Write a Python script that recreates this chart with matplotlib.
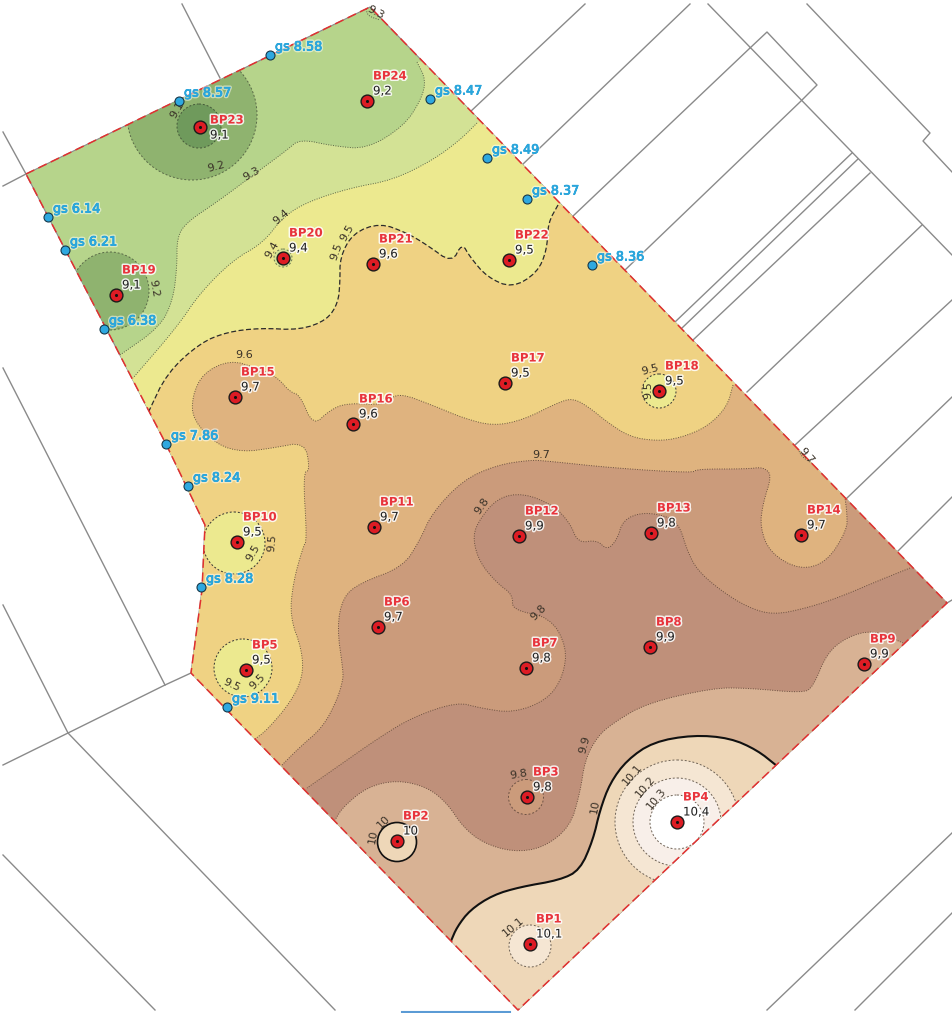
import matplotlib
matplotlib.use("Agg")
import matplotlib.pyplot as plt
import matplotlib.patheffects as pe
from matplotlib.patches import Polygon, Circle

# site outline (map pixels)
site = [(26, 174), (370, 7), (947, 603), (518, 1010), (191, 673), (202, 590), (205, 525), (166, 444)]

# neighbouring parcels
parcels = [
    [(470, 112), (585, 4)], [(522, 165), (690, 4)], [(572, 217), (750, 48)],
    [(625, 270), (800, 102), (817, 85), (767, 32), (750, 48)],
    [(708, 4), (952, 255)],
    [(807, 4), (930, 133), (923, 141), (952, 172)],
    [(675, 322), (852, 153)], [(682, 328), (858, 159)], [(693, 340), (870, 173)],
    [(747, 392), (922, 225)], [(795, 445), (952, 300)], [(847, 498), (952, 397)],
    [(897, 552), (952, 497)], [(947, 603), (952, 600)],
    [(182, 4), (220, 78)], [(3, 132), (26, 174), (3, 186)],
    [(3, 368), (165, 685)], [(3, 605), (68, 733), (335, 1010)],
    [(3, 765), (68, 733), (165, 685), (191, 673)], [(3, 855), (155, 1010)],
    [(767, 1010), (953, 832)], [(855, 1010), (953, 912)],
]

# iso lines
line_93 = [(417, 62), (426, 80), (421, 100), (404, 126), (367, 149), (333, 146), (300, 139), (287, 150),
           (260, 170), (217, 202), (187, 222), (177, 237), (177, 267), (173, 300), (160, 327), (120, 355)]
line_94 = [(477, 123), (460, 140), (433, 160), (393, 180), (350, 188), (307, 202), (283, 217), (263, 243),
           (233, 260), (200, 293), (177, 327), (133, 378)]
line_95 = [(558, 205), (548, 223), (547, 250), (537, 273), (512, 288), (487, 277), (470, 257), (462, 243),
           (452, 263), (427, 245), (407, 233), (380, 223), (353, 233), (340, 257), (340, 283), (338, 303),
           (327, 320), (300, 330), (260, 328), (227, 332), (200, 343), (167, 373), (148, 413)]
line_96 = [(733, 385), (727, 407), (707, 427), (680, 438), (657, 441), (630, 437), (607, 422), (590, 408),
           (573, 398), (557, 403), (523, 420), (493, 426), (463, 418), (437, 407), (397, 392), (387, 405),
           (347, 403), (330, 410), (313, 426), (300, 395), (290, 392), (277, 377), (257, 368), (230, 360),
           (203, 373), (192, 397), (193, 420), (217, 445), (243, 452), (273, 448), (305, 442), (310, 470),
           (303, 473), (307, 540), (303, 547), (293, 583), (290, 617), (302, 650), (303, 677), (290, 703),
           (267, 730), (255, 739)]
line_97 = [(282, 765), (300, 747), (323, 727), (337, 700), (343, 680), (343, 670), (337, 627), (343, 597),
           (360, 583), (403, 567), (420, 540), (432, 513), (463, 480), (497, 465), (530, 460), (547, 461),
           (613, 468), (693, 473), (697, 469), (747, 469), (763, 467), (772, 475), (763, 503), (760, 527),
           (770, 553), (800, 570), (827, 562), (847, 530), (847, 513), (845, 498)]
line_98 = [(910, 568), (880, 580), (840, 597), (807, 608), (773, 615), (747, 607), (720, 590), (697, 570),
           (687, 550), (680, 527), (670, 517), (643, 512), (623, 520), (617, 540), (607, 550), (597, 540),
           (578, 543), (570, 523), (553, 505), (523, 493), (497, 498), (477, 523), (473, 540), (480, 563),
           (497, 583), (513, 595), (512, 610), (550, 617), (567, 647), (563, 677), (547, 700), (513, 713),
           (480, 708), (457, 702), (413, 717), (380, 737), (337, 767), (307, 788)]
line_99 = [(903, 643), (873, 630), (847, 637), (827, 653), (813, 687), (803, 693), (747, 688), (713, 688),
           (647, 703), (613, 723), (597, 737), (585, 760), (580, 793), (570, 827), (543, 848), (513, 852),
           (483, 843), (463, 827), (447, 803), (427, 787), (397, 780), (367, 787), (343, 807), (335, 820)]
line_100 = [(777, 766), (757, 750), (730, 738), (693, 735), (653, 742), (627, 760), (610, 783), (600, 810),
            (593, 840), (580, 870), (560, 880), (520, 887), (493, 895), (470, 910), (457, 927), (451, 941)]
# two short iso pieces on the boundary
tick_93 = [(366, 9), (368, 16), (380, 20)]
tick_97 = [(798, 449), (802, 457), (813, 464)]

# closed spots: centre x, centre y, radius, fill colour, edge
spots = [
    (192, 115, 65, "#8fb36f", "#5a6a48"), (199, 126, 22, "#6f9a5c", "#45593a"),
    (110, 291, 39, "#8fb36f", "#5a6a48"), (283, 258, 9, "#d3e295", "#6d7a50"),
    (659, 391, 17, "#ece98f", "#333333"), (234, 543, 31, "#ece98f", "#333333"),
    (243, 668, 29, "#ece98f", "#333333"), (526, 797, 17.5, "#cb9b7b", "#6e5244"),
    (397, 842, 19.5, "#eed7b8", "#111111"), (530, 946, 21, "#f5e6d3", "#6e6255"),
    (677, 822, 62, "#f5e6d3", "#6e6255"), (677, 822, 44, "#f8efe9", "#6e6255"),
    (677, 822, 27, "#ffffff", "#6e6255"),
]

# boreholes
bp_names = ["BP1", "BP2", "BP3", "BP4", "BP5", "BP6", "BP7", "BP8", "BP9", "BP10", "BP11", "BP12",
            "BP13", "BP14", "BP15", "BP16", "BP17", "BP18", "BP19", "BP20", "BP21", "BP22", "BP23", "BP24"]
bp_vals = ["10,1", "10", "9,8", "10,4", "9,5", "9,7", "9,8", "9,9", "9,9", "9,5", "9,7", "9,9",
           "9,8", "9,7", "9,7", "9,6", "9,5", "9,5", "9,1", "9,4", "9,6", "9,5", "9,1", "9,2"]
bp_x = [530, 397, 527, 677, 246, 378, 526, 650, 864, 237, 374, 519, 651, 801, 235, 353, 505, 659, 116, 283, 373, 509, 200, 367]
bp_y = [944, 841, 797, 822, 670, 627, 668, 647, 664, 542, 527, 536, 533, 535, 397, 424, 383, 391, 295, 258, 264, 260, 127, 101]

# ground level points
gs_labels = ["gs 8.58", "gs 8.57", "gs 8.47", "gs 8.49", "gs 8.37", "gs 8.36", "gs 6.14",
             "gs 6.21", "gs 6.38", "gs 7.86", "gs 8.24", "gs 8.28", "gs 9.11"]
gs_x = [270, 179, 430, 487, 527, 592, 48, 65, 104, 166, 188, 201, 227]
gs_y = [55, 101, 99, 158, 199, 265, 217, 250, 329, 444, 486, 587, 707]

# labels on the iso lines: text, x, y, rotation
iso_labels = [
    ("9.3", 375, 13, -28), ("9.1", 177, 110, 60), ("9.2", 216, 167, 15), ("9.3", 251, 174, 30),
    ("9.4", 281, 217, 40), ("9.4", 272, 250, 60), ("9.5", 336, 252, 70), ("9.5", 347, 233, 60),
    ("9.2", 154, 288, -80), ("9.6", 244, 355, 0), ("9.5", 650, 370, 15), ("9.5", 648, 390, 90),
    ("9.7", 541, 455, 0), ("9.7", 806, 456, -50), ("9.8", 482, 506, 55), ("9.8", 538, 613, 45),
    ("9.5", 253, 553, 60), ("9.5", 272, 543, 85), ("9.5", 232, 685, -25), ("9.5", 257, 682, 45),
    ("9.9", 585, 745, 75), ("9.8", 519, 774, 10), ("10", 595, 807, 80), ("10.1", 632, 775, 50),
    ("10.2", 645, 787, 50), ("10.3", 656, 799, 50), ("10", 384, 822, 45), ("10", 373, 837, 80),
    ("10.1", 513, 927, 40),
]


def smooth(pts, rounds=2):
    # corner cutting, ends stay where they are
    for _ in range(rounds):
        out = [pts[0]]
        for a, b in zip(pts[:-1], pts[1:]):
            out.append((0.75 * a[0] + 0.25 * b[0], 0.75 * a[1] + 0.25 * b[1]))
            out.append((0.25 * a[0] + 0.75 * b[0], 0.25 * a[1] + 0.75 * b[1]))
        out.append(pts[-1])
        pts = out
    return pts


fig = plt.figure(figsize=(9.53, 10.13), dpi=100)
ax = fig.add_axes([0, 0, 1, 1])
ax.set_xlim(0, 953)
ax.set_ylim(1013, 0)
ax.axis("off")

for p in parcels:
    ax.plot([q[0] for q in p], [q[1] for q in p], color="#8a8a8a", lw=1.0, zorder=1)

base = Polygon(site, closed=True, fc="#b6d48b", ec="#8a8a8a", lw=0.8, zorder=2)
ax.add_patch(base)

# bands, painted from low to high
bands = [
    (line_93, [(0, 400), (0, 1013), (953, 1013), (953, 0)], "#d3e295", "#5c6648", (1, 1.5), 0.7),
    (line_94, [(0, 420), (0, 1013), (953, 1013), (953, 0)], "#ece98f", "#5c6648", (1, 1.5), 0.7),
    (line_95, [(0, 470), (0, 1013), (953, 1013), (953, 200)], "#efd283", "#2b2b2b", (4, 2), 0.9),
    (line_96, [(0, 1013), (953, 1013), (953, 385)], "#dfb37f", "#6b5a40", (1, 1.5), 0.7),
    (line_97, [(953, 498), (953, 1013), (0, 1013)], "#cb9b7b", "#6b5040", (1, 1.5), 0.7),
    (line_98, [(0, 1013), (953, 1013), (953, 568)], "#bf907a", "#6b5040", (1, 1.5), 0.7),
    (line_99, [(0, 1013), (953, 1013), (953, 643)], "#d8b294", "#6b5040", (1, 1.5), 0.7),
    (line_100, [(0, 1013), (953, 1013), (953, 766)], "#eed7b8", "#111111", None, 1.5),
]
for line, outer, colour, edge, dash, width in bands:
    pts = smooth(line)
    poly = ax.fill([q[0] for q in pts + outer], [q[1] for q in pts + outer], color=colour, lw=0, zorder=3)[0]
    poly.set_clip_path(base)
    ln, = ax.plot([q[0] for q in pts], [q[1] for q in pts], color=edge, lw=width, zorder=4)
    if dash:
        ln.set_dashes(dash)
    ln.set_clip_path(base)

for piece in (tick_93, tick_97):
    pts = smooth(piece)
    ln, = ax.plot([q[0] for q in pts], [q[1] for q in pts], color="#5c5a48", lw=0.7, dashes=(1, 1.5), zorder=4)
    ln.set_clip_path(base)

for cx, cy, r, colour, edge in spots:
    solid = edge == "#111111"
    c = Circle((cx, cy), r, fc=colour, ec=edge, lw=1.2 if solid else 0.7,
               ls="-" if solid else (0, (2, 2)), zorder=5)
    ax.add_patch(c)
    c.set_clip_path(base)

# red dashed boundary
bx = [q[0] for q in site] + [site[0][0]]
by = [q[1] for q in site] + [site[0][1]]
ax.plot(bx, by, color="#e03030", lw=1.1, dashes=(6, 3), zorder=6)

halo = [pe.withStroke(linewidth=2.2, foreground="white", alpha=0.85)]
for text, x, y, rot in iso_labels:
    ax.text(x, y, text, fontsize=8, rotation=rot, ha="center", va="center", color="#3a3228", zorder=7)

ax.scatter(gs_x, gs_y, s=42, c="#2ea8e0", edgecolors="#15384a", linewidths=0.8, zorder=8)
for text, x, y in zip(gs_labels, gs_x, gs_y):
    ax.text(x + 5, y - 8, text, fontsize=9.2, color="#2ba6dc", ha="left", va="center", zorder=9,
            path_effects=[pe.withStroke(linewidth=2.5, foreground="white", alpha=0.5),
                          pe.withStroke(linewidth=0.5, foreground="#2ba6dc"), pe.Normal()])

ax.scatter(bp_x, bp_y, s=85, c="#dd1c24", edgecolors="#1a1a1a", linewidths=1.0, zorder=8)
ax.scatter(bp_x, bp_y, s=5, c="#111111", linewidths=0, zorder=9)
for name, val, x, y in zip(bp_names, bp_vals, bp_x, bp_y):
    dx, dy = (10, -7) if name == "BP23" else (6, -25)
    ax.text(x + dx, y + dy, name, fontsize=8.4, fontweight="bold", color="#e8343c", ha="left", va="center",
            zorder=10, path_effects=halo)
    ax.text(x + dx, y + dy + 15, val, fontsize=8.5, color="#222222", ha="left", va="center",
            zorder=10, path_effects=halo)

# strip of blue on the bottom edge of the scan
ax.plot([402, 510], [1012, 1012], color="#5b9bd5", lw=1.5, zorder=1)

fig.savefig("out.png", dpi=100)
